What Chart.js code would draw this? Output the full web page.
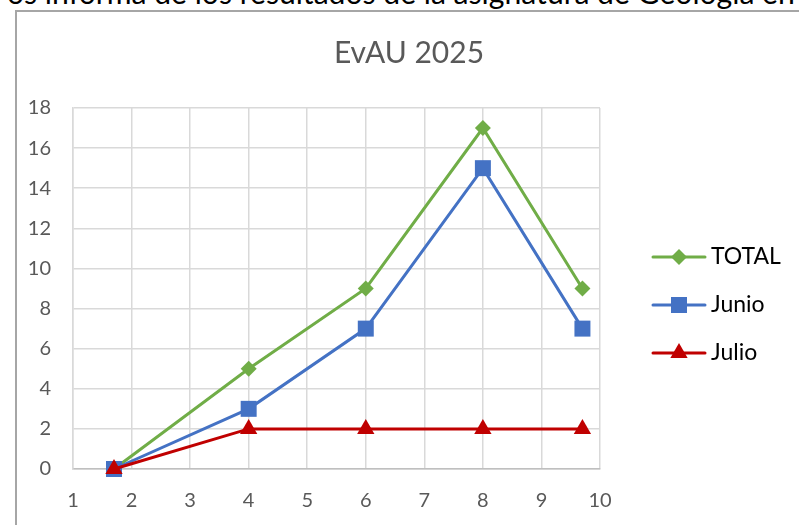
<!DOCTYPE html>
<html>
<head>
<meta charset="utf-8">
<script src="https://cdn.jsdelivr.net/npm/chart.js@4/dist/chart.umd.min.js"></script>
<style>
  html, body { margin: 0; padding: 0; width: 799px; height: 525px; overflow: hidden; background: #fff; }
  #topline { position: absolute; left: 7px; top: -21px; font: 27px Lato, sans-serif; line-height: 27px; color: #000; white-space: nowrap; }
  #box { position: absolute; left: 15px; top: 10px; width: 786px; height: 513px; border: 2px solid #a6a6a6; }
  #box canvas { display: block; }
</style>
</head>
<body>
<div id="topline">os informa de los resultados de la asignatura de Geología en</div>
<div id="box"><canvas id="chart" width="786" height="513"></canvas></div>
<script>
// values
var xVals = [1.7, 4, 6, 8, 9.7];
var total = [0, 5, 9, 17, 9];
var junio = [0, 3, 7, 15, 7];
var julio = [0, 2, 2, 2, 2];
var seriesNames = ['TOTAL', 'Junio', 'Julio'];
var seriesColors = ['#70ad47', '#4472c4', '#c00000'];
var chartTitle = 'EvAU 2025';

// stretch the cut-off line of document text to the page width
var tl = document.getElementById('topline');
var w = tl.getBoundingClientRect().width;
tl.style.fontSize = (27 * 788 / w) + 'px';

function pts(ys) {
    var out = [];
    for (var i = 0; i < xVals.length; i++) {
        out.push({x: xVals[i], y: ys[i]});
    }
    return out;
}

function series(i, ys, style, radius, order) {
    return {
        label: seriesNames[i],
        data: pts(ys),
        borderColor: seriesColors[i],
        backgroundColor: seriesColors[i],
        borderWidth: 3,
        pointStyle: style,
        pointRadius: radius,
        pointBorderWidth: 0,
        pointBackgroundColor: seriesColors[i],
        clip: false,
        order: order
    };
}

// title centred on the whole box, legend drawn as line + marker like the original
var decor = {
    id: 'decor',
    afterDraw(chart) {
        var ctx = chart.ctx;
        var rows = [245, 293, 341];
        ctx.save();
        ctx.fillStyle = '#595959';
        ctx.font = '30px Lato, sans-serif';
        ctx.textAlign = 'center';
        ctx.textBaseline = 'alphabetic';
        ctx.fillText(chartTitle, 392, 51);
        chart.data.datasets.forEach(function (ds, i) {
            var y = rows[i];
            ctx.strokeStyle = ds.borderColor;
            ctx.lineWidth = 3;
            ctx.lineCap = 'round';
            ctx.beginPath();
            ctx.moveTo(636, y);
            ctx.lineTo(688, y);
            ctx.stroke();
            ctx.fillStyle = ds.backgroundColor;
            ctx.beginPath();
            Chart.helpers.drawPoint(ctx, {pointStyle: ds.pointStyle, rotation: 0, borderWidth: 0, radius: ds.pointRadius}, 662, y);
            ctx.fillStyle = '#000';
            ctx.font = '23px Lato, sans-serif';
            ctx.textBaseline = 'middle';
            ctx.textAlign = 'left';
            ctx.fillText(ds.label, 694, y);
        });
        ctx.restore();
    }
};

var ctx = document.getElementById('chart').getContext('2d');
var chart = new Chart(ctx, {
    type: 'line',
    data: {
        datasets: [
            series(0, total, 'rectRot', 8, 2),
            series(1, junio, 'rect', 11.3, 1),
            series(2, julio, 'triangle', 10, 0)
        ]
    },
    options: {
        responsive: false,
        animation: false,
        layout: { padding: { left: 11, right: 203, top: 96, bottom: 0 } },
        plugins: {
            legend: { display: false },
            tooltip: { enabled: false },
            title: { display: false }
        },
        scales: {
            x: {
                type: 'linear',
                min: 1,
                max: 10,
                afterFit: function (s) { s.height = 56; },
                ticks: { stepSize: 1, color: '#595959', padding: 20, font: { family: 'Lato', size: 20 } },
                grid: { color: '#d9d9d9', lineWidth: 1.5, drawTicks: false },
                border: { color: '#bfbfbf', width: 1.5 }
            },
            y: {
                min: 0,
                max: 18,
                afterFit: function (s) { s.width = 45; },
                ticks: { stepSize: 2, color: '#595959', padding: 22, font: { family: 'Lato', size: 20 } },
                grid: { color: '#d9d9d9', lineWidth: 1.5, drawTicks: false },
                border: { color: '#d9d9d9', width: 1.5 }
            }
        }
    },
    plugins: [decor]
});
</script>
</body>
</html>
